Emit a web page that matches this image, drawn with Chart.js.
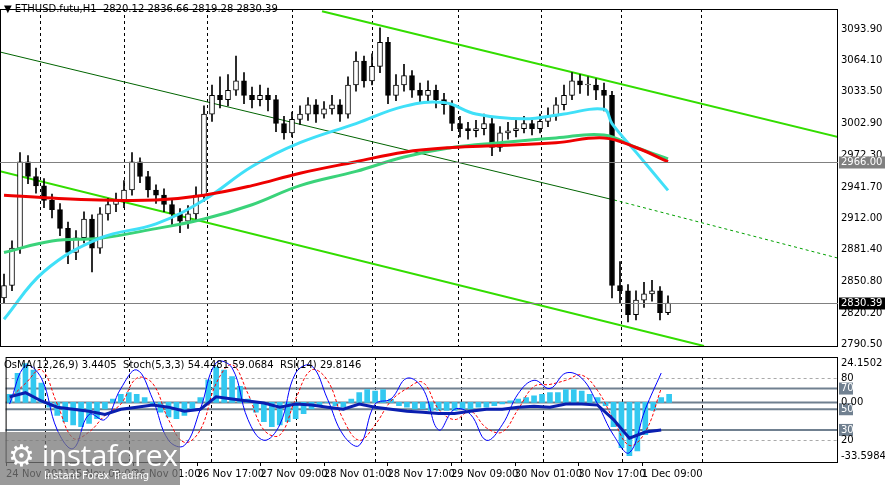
<!DOCTYPE html>
<html><head><meta charset="utf-8">
<script src="https://cdn.jsdelivr.net/npm/chart.js@4/dist/chart.umd.min.js"></script>
<style>
body{margin:0;background:#fff;width:885px;height:485px;overflow:hidden;position:relative;font-family:"DejaVu Sans",sans-serif}
canvas{position:absolute;left:0}
#c1{top:0}#c2{top:355px}
.t{position:absolute;font-size:10px;color:#000;white-space:pre}
#logo{position:absolute;left:0;top:432px;width:180px;height:53px;background:rgba(120,120,120,0.75);color:#fff}
</style></head><body>
<canvas id="c1" width="885" height="355"></canvas>
<canvas id="c2" width="885" height="130"></canvas>
<div class="t" style="left:4px;top:3px">▼ ETHUSD.futu,H1  2820.12 2836.66 2819.28 2830.39</div>
<div class="t" style="left:4px;top:359px">OsMA(12,26,9) 3.4405  Stoch(5,3,3) 54.4481 59.0684  RSI(14) 29.8146</div>
<div id="logo"><div style="position:absolute;left:8px;top:2px;font-size:30px;font-family:'Open Sans',sans-serif;letter-spacing:-0.5px">⚙ instaforex</div><div style="position:absolute;left:44px;top:38px;font-size:10px">Instant Forex Trading</div></div>
<script>
const closes=[2847,2883,2966,2952,2943,2929,2920,2902,2879,2893,2911,2883,2916,2925,2929,2939,2966,2952,2939,2934,2925,2916,2909,2916,2934,3012,3030,3026,3035,3044,3030,3026,3030,3026,3003,2994,3007,3012,3021,3012,3017,3021,3012,3040,3063,3044,3058,3081,3030,3040,3049,3035,3030,3035,3026,3021,3003,2998,2996,2998,3003,2980,2994,2996,2998,3003,2998,3005,3010,3021,3030,3044,3040,3040,3035,3030,2847,2842,2819,2833,2839,2842,2821,2830];
const firstOpen=2835;
const highs=[2858,2890,2975,2972,2960,2950,2935,2926,2908,2900,2918,2915,2922,2931,2936,2948,2975,2970,2957,2944,2940,2930,2921,2924,2942,3020,3040,3048,3050,3068,3052,3038,3040,3037,3030,3010,3014,3020,3028,3026,3024,3030,3026,3048,3072,3068,3070,3095,3086,3050,3060,3054,3042,3044,3040,3032,3025,3010,3004,3006,3012,3008,3000,3004,3006,3010,3008,3012,3018,3028,3040,3052,3050,3048,3046,3042,3034,2870,2848,2842,2850,2852,2846,2837];
const lows=[2830,2842,2878,2945,2936,2922,2912,2895,2868,2872,2888,2860,2878,2910,2918,2922,2934,2946,2932,2926,2918,2905,2898,2902,2910,2928,3005,3018,3020,3030,3022,3018,3020,3015,2995,2988,2990,3002,3006,3004,3008,3012,3005,3008,3034,3038,3040,3052,3022,3025,3034,3028,3022,3025,3018,3012,2996,2990,2988,2990,2992,2972,2976,2988,2990,2994,2992,2994,3000,3006,3016,3026,3032,3030,3026,3015,2835,2830,2812,2814,2826,2832,2814,2819];
const fastMaIdx=[0,5,12,19,25,31,37,44,50,55,59,65,70,75,76,79,83];
const fastMa=[2814.5,2860.5,2892.6,2906.4,2929.4,2961.6,2984.5,3002.9,3019.5,3023.1,3012.1,3007.5,3012.1,3016.7,3002.9,2975.4,2938.6];
const slowMaIdx=[0,6,12,19,25,31,37,44,50,56,62,69,75,79,83];
const redMa=[2934,2931.2,2929.4,2929.4,2934,2943.2,2955.1,2966.2,2975.4,2979.9,2981.8,2984.5,2989.1,2979.9,2966.2];
const greenMa=[2878.8,2889.9,2892.6,2901.8,2911,2924.8,2943.2,2956.9,2970.8,2979.9,2984.5,2989.1,2991.9,2979.9,2968.9];
const upperChannel=[[39.75,3111],[104.75,2989]];
const lowerChannel=[[-0.5,2957],[87.5,2788.8]];
const midSolid=[[-0.5,3071.8],[76.25,2929.4]];
const midDashed=[[76.25,2929.4],[104.75,2872.4]];
const priceTicks=[3093.90,3064.10,3033.50,3002.90,2972.30,2941.70,2912.00,2881.40,2850.80,2820.20,2790.50];
const levelPrice=2966.00, lastPrice=2830.39;
const osma=[5,18,24,20,12,-3,-8,-12,-14,-15,-13,-10,-4,2,5,6,5,3,-2,-6,-9,-10,-8,-4,3,14,22,20,16,10,2,-6,-12,-15,-14,-12,-10,-7,-4,-2,0,-2,-3,2,6,8,7,8,2,-2,-3,-4,-4,-5,-5,-5,-5,-4,-4,-3,-3,-2,-1,1,2,3,4,5,6,6,8,8,7,5,3,-2,-15,-28,-33,-30,-20,-5,3,5];
const stochMain=[55,92,80,30,12,45,40,70,88,60,20,15,50,95,90,40,20,35,85,92,60,25,15,55,60,80,70,30,50,45,20,35,65,78,70,85,80,55,25,8,50,85];
const stochSignal=[60,75,88,55,22,28,44,55,80,75,40,18,30,75,93,65,30,25,60,88,78,40,20,35,58,70,76,50,40,48,32,28,50,72,74,78,83,68,40,15,28,70];
const rsi=[62,66,58,52,50,48,45,50,52,54,52,48,50,62,60,58,56,52,55,54,52,50,55,52,50,48,47,46,46,48,50,50,52,53,52,55,55,54,40,22,28,30];
const dateLabels=["24 Nov 2021","25 Nov 09:00","26 Nov 01:00","26 Nov 17:00","27 Nov 09:00","28 Nov 01:00","28 Nov 17:00","29 Nov 09:00","30 Nov 01:00","30 Nov 17:00","1 Dec 09:00"];
const gridIdx=[4.5,15,25.4,36,46,56.8,67.1,77.1,87.1];
const XMIN=-0.5,XMAX=104.25;

const opens=closes.map((c,i)=>i===0?firstOpen:closes[i-1]);
const pts=(ix,v)=>ix.map((x,i)=>({x:x,y:v[i]}));
const seg=a=>a.map(p=>({x:p[0],y:p[1]}));

const frame={id:'frame',beforeDatasetsDraw(c){const a=c.chartArea,x=c.ctx,s=c.scales.x;x.save();x.strokeStyle='#000';x.setLineDash([3,3]);x.lineWidth=1;gridIdx.forEach(g=>{const px=Math.round(s.getPixelForValue(g))+0.5;x.beginPath();x.moveTo(px,a.top);x.lineTo(px,a.bottom);x.stroke();});x.restore();},
 afterDraw(c){const a=c.chartArea,x=c.ctx;x.save();x.strokeStyle='#000';x.lineWidth=1;x.strokeRect(a.left+0.5,a.top+0.5,a.right-a.left-1,a.bottom-a.top);x.restore();}};

const priceLabels={id:'pl',afterDraw(c){const x=c.ctx,y=c.scales.y,a=c.chartArea;x.save();x.font='10px "DejaVu Sans"';
 [[levelPrice,'#808080','#808080','#fff'],[lastPrice,'#808080','#000','#fff']].forEach(([p,lc,bg,fg])=>{const py=Math.round(y.getPixelForValue(p))+0.5;x.strokeStyle=lc;x.lineWidth=1;x.beginPath();x.moveTo(a.left,py);x.lineTo(a.right,py);x.stroke();x.fillStyle=bg;x.fillRect(a.right+1,py-6,46,12);x.fillStyle=fg;x.textBaseline='middle';x.fillText(p.toFixed(2),a.right+3,py);});
 x.restore();}};

new Chart(document.getElementById('c1'),{
 data:{datasets:[
  {type:'line',data:seg(upperChannel),borderColor:'#33dd00',borderWidth:2,pointRadius:0,order:5},
  {type:'line',data:seg(lowerChannel),borderColor:'#33dd00',borderWidth:2,pointRadius:0,order:5},
  {type:'line',data:seg(midSolid),borderColor:'#006400',borderWidth:1,pointRadius:0,order:5},
  {type:'line',data:seg(midDashed),borderColor:'#00a000',borderWidth:1,borderDash:[3,3],pointRadius:0,order:5},
  {type:'bar',grouped:false,data:closes.map((c,i)=>({x:i,y:[lows[i],highs[i]]})),backgroundColor:'#000',barThickness:1,order:4},
  {type:'bar',grouped:false,data:closes.map((c,i)=>({x:i,y:[opens[i],c]})),backgroundColor:closes.map((c,i)=>c>=opens[i]?'#fff':'#000'),borderColor:'#000',borderWidth:1,borderSkipped:false,barThickness:5,minBarLength:1,order:3},
  {type:'line',data:pts(slowMaIdx,greenMa),borderColor:'#3ad37a',borderWidth:3,pointRadius:0,tension:0.4,order:2},
  {type:'line',data:pts(slowMaIdx,redMa),borderColor:'#ee0000',borderWidth:3,pointRadius:0,tension:0.4,order:1},
  {type:'line',data:pts(fastMaIdx,fastMa),borderColor:'#40e0f8',borderWidth:3,pointRadius:0,tension:0.4,order:1}
 ]},
 options:{responsive:false,animation:false,layout:{padding:{bottom:2,left:0,top:0,right:0}},plugins:{legend:{display:false},tooltip:{enabled:false}},
  scales:{x:{type:'linear',offset:false,min:XMIN,max:XMAX,display:false},
   y:{position:'right',min:2788.8,max:3113.2,grid:{display:false,drawTicks:false},border:{display:false},afterFit(s){s.width=47;},afterBuildTicks(s){s.ticks=priceTicks.map(v=>({value:v}));},
    ticks:{color:'#000',font:{size:10,family:'DejaVu Sans'},padding:3,callback:v=>Number(v).toFixed(2)}}}},
 plugins:[frame,priceLabels]});

const subLevels={id:'sl',beforeDatasetsDraw(c){const x=c.ctx,y=c.scales.y,a=c.chartArea;x.save();
 [80,20].forEach(v=>{const py=Math.round(y.getPixelForValue(v))+0.5;x.strokeStyle='#aaa';x.setLineDash([3,3]);x.beginPath();x.moveTo(a.left,py);x.lineTo(a.right,py);x.stroke();});
 x.setLineDash([]);x.strokeStyle='#708090';x.lineWidth=2;[70,50,30].forEach(v=>{const py=y.getPixelForValue(v);x.beginPath();x.moveTo(a.left,py);x.lineTo(a.right,py);x.stroke();});
 const pz=c.scales.y2.getPixelForValue(0);x.beginPath();x.moveTo(a.left,pz);x.lineTo(a.right,pz);x.stroke();x.restore();},
 afterDraw(c){const x=c.ctx,y=c.scales.y,y2=c.scales.y2,a=c.chartArea,s=c.scales.x;x.save();x.font='10px "DejaVu Sans"';x.textBaseline='middle';
 [[80,false],[70,true],[50,true],[30,true],[20,false]].forEach(([v,box])=>{const py=y.getPixelForValue(v);if(box){x.fillStyle='#708090';x.fillRect(a.right+1,py-6,14,12);x.fillStyle='#fff';}else x.fillStyle='#000';x.fillText(String(v),a.right+3,py);});
 [[24.1502,'24.1502'],[0,'0.00'],[-33.5984,'-33.5984']].forEach(([v,t])=>{x.fillStyle='#000';x.fillText(t,a.right+3,y2.getPixelForValue(v));});
 x.strokeStyle='#000';x.lineWidth=1;dateLabels.forEach((d,i)=>{const px=Math.round(s.getPixelForValue(i*8-0.45))+0.5;x.beginPath();x.moveTo(px,a.bottom);x.lineTo(px,a.bottom+4);x.stroke();});
 x.restore();}};

const sx=i=>i*2;
new Chart(document.getElementById('c2'),{
 data:{datasets:[
  {type:'bar',grouped:false,yAxisID:'y2',data:osma.map((v,i)=>({x:i,y:v})),backgroundColor:'#33c8f0',barThickness:5,order:5},
  {type:'line',data:stochSignal.map((v,i)=>({x:sx(i),y:v})),borderColor:'#ff0000',borderWidth:1,borderDash:[3,2],pointRadius:0,tension:0.4,order:3},
  {type:'line',data:stochMain.map((v,i)=>({x:sx(i),y:v})),borderColor:'#0000ff',borderWidth:1,pointRadius:0,tension:0.4,order:2},
  {type:'line',data:rsi.map((v,i)=>({x:sx(i),y:v})),borderColor:'#0a1fb0',borderWidth:3,pointRadius:0,order:1}
 ]},
 options:{responsive:false,animation:false,layout:{padding:{top:2,left:0,right:0}},plugins:{legend:{display:false},tooltip:{enabled:false}},
  scales:{x:{type:'linear',offset:false,min:XMIN,max:XMAX,grid:{display:false,drawTicks:false},border:{display:false},afterFit(s){s.height=23;},
    afterBuildTicks(s){s.ticks=dateLabels.map((d,i)=>({value:i*8-0.45}));},
    ticks:{align:'start',maxRotation:0,autoSkip:false,color:'#000',font:{size:10,family:'DejaVu Sans'},padding:6,callback:(v)=>dateLabels[Math.round((v+0.45)/8)]||''}},
   y:{position:'right',min:-1,max:100.5,grid:{display:false,drawTicks:false},border:{display:false},ticks:{display:false},afterFit(s){s.width=47;}},
   y2:{display:false,min:-36.9,max:28.1}}},
 plugins:[frame,subLevels]});
</script></body></html>
